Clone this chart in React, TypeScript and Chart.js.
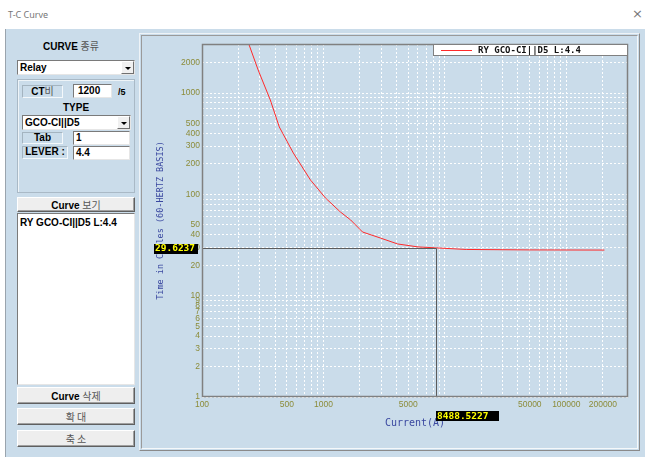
import React, { useEffect, useRef } from "react";
import { Chart, registerables } from "chart.js";

Chart.register(...registerables);

// ---- data ----
const currents = [235, 290, 365, 433, 565, 781, 1040, 1380, 1672, 2100, 2960, 4080, 6000, 8488.5227, 15000, 50000, 206000];
const cycles = [3400, 1690, 855, 463, 256, 139, 92, 67, 56, 42.5, 37, 32.4, 30.3, 29.6237, 28.6, 28.3, 28.2];
const seriesLabel = "RY GCO-CI||D5 L:4.4";

const xTickValues = [100, 200, 300, 400, 500, 600, 700, 800, 900, 1000, 2000, 3000, 4000, 5000, 6000, 7000, 8000, 9000,
  10000, 20000, 30000, 40000, 50000, 60000, 70000, 80000, 90000, 100000, 200000];
const xTickLabels = [100, 500, 1000, 5000, 50000, 100000, 200000];
const yTickValues = [1, 2, 3, 4, 5, 6, 7, 8, 9, 10, 20, 30, 40, 50, 60, 70, 80, 90, 100, 200, 300, 400, 500, 600, 700, 800, 900, 1000, 2000, 3000];
const yTickLabels = [1, 2, 3, 4, 5, 6, 7, 8, 9, 10, 20, 30, 40, 50, 100, 200, 300, 400, 500, 1000, 2000];

const crossCurrent = 8488.5227;
const crossTime = 29.6237;

const BLUE_BG = "#cadcea";
const UI_FONT = '"Liberation Sans", Arial, "Noto Sans CJK KR", sans-serif';
const MONO = '"DejaVu Sans Mono", "Liberation Mono", monospace';

const overlayPlugin = {
  id: "overlay",
  afterDatasetsDraw(chart: any) {
    const { ctx, chartArea: a, scales } = chart;
    const px = Math.round(scales.x.getPixelForValue(crossCurrent)) + 0.5;
    const py = Math.round(scales.y.getPixelForValue(crossTime)) + 0.5;
    ctx.save();
    ctx.strokeStyle = "#5c5c5c";
    ctx.lineWidth = 1;
    ctx.beginPath();
    ctx.moveTo(a.left, py);
    ctx.lineTo(px, py);
    ctx.moveTo(px, py);
    ctx.lineTo(px, a.bottom);
    ctx.stroke();
    // plot border
    ctx.strokeStyle = "#808080";
    ctx.lineWidth = 1.5;
    ctx.strokeRect(a.left + 0.5, a.top + 0.5, a.right - a.left - 1, a.bottom - a.top - 1);
    ctx.restore();
  },
  afterDraw(chart: any) {
    const { ctx, chartArea: a, scales } = chart;
    const px = Math.round(scales.x.getPixelForValue(crossCurrent));
    const py = Math.round(scales.y.getPixelForValue(crossTime));
    ctx.save();
    // legend box
    const lw = 195;
    const lx = a.right - lw;
    const ly = a.top;
    ctx.fillStyle = "#ffffff";
    ctx.fillRect(lx, ly, lw, 11);
    ctx.strokeStyle = "#808080";
    ctx.lineWidth = 1;
    ctx.strokeRect(lx + 0.5, ly + 0.5, lw - 1, 11);
    const ds = chart.data.datasets[0];
    ctx.strokeStyle = ds.borderColor;
    ctx.beginPath();
    ctx.moveTo(lx + 8, ly + 6.5);
    ctx.lineTo(lx + 39, ly + 6.5);
    ctx.stroke();
    ctx.fillStyle = "#111111";
    ctx.font = "bold 9px " + MONO;
    ctx.textBaseline = "middle";
    ctx.textAlign = "left";
    ctx.fillText(ds.label, lx + 45, ly + 6.5);

    // value boxes
    ctx.font = "bold 9.5px " + MONO;
    const yTxt = crossTime.toFixed(4);
    const yBoxW = 44;
    const yBoxX = a.left - 4 - yBoxW;
    ctx.fillStyle = "#000000";
    ctx.fillRect(yBoxX, py - 4, yBoxW, 10);
    ctx.fillStyle = "#ffff00";
    ctx.fillText(yTxt, yBoxX + 1, py + 1);

    const xTxt = crossCurrent.toFixed(4);
    ctx.fillStyle = "#000000";
    ctx.fillRect(px, a.bottom + 14, 63, 10);
    ctx.fillStyle = "#ffff00";
    ctx.fillText(xTxt, px + 1, a.bottom + 19.5);
    ctx.restore();
  },
};

function ChartPanel() {
  const ref = useRef<HTMLCanvasElement | null>(null);
  useEffect(() => {
    if (!ref.current) return;
    const tickFont = { family: '"Liberation Sans", Arial, sans-serif', size: 8.5 };
    const chart = new Chart(ref.current, {
      type: "line",
      data: {
        datasets: [
          {
            label: seriesLabel,
            data: currents.map((c, i) => ({ x: c, y: cycles[i] })),
            borderColor: "#ff2a2a",
            borderWidth: 1,
            pointRadius: 0,
            tension: 0,
            fill: false,
          },
        ],
      },
      options: {
        animation: false,
        responsive: false,
        devicePixelRatio: 1,
        layout: { padding: { top: 9, right: 10, left: 0, bottom: 0 } },
        plugins: { legend: { display: false }, tooltip: { enabled: false } },
        scales: {
          x: {
            type: "logarithmic",
            min: 100,
            max: 322000,
            afterBuildTicks: (s: any) => {
              s.ticks = xTickValues.map((v) => ({ value: v }));
            },
            afterFit: (s: any) => {
              s.height = 51;
            },
            ticks: {
              autoSkip: false,
              maxRotation: 0,
              minRotation: 0,
              padding: 3,
              color: "#8c8c3a",
              font: tickFont,
              callback: (v: any) => (xTickLabels.includes(Number(v)) ? String(v) : ""),
            },
            grid: { color: "rgba(255,255,255,0.95)", lineWidth: 1, drawTicks: false },
            border: { display: false, dash: [2, 2] },
            title: {
              display: true,
              text: "Current(A)",
              color: "#3a48a0",
              font: { family: MONO, size: 10 },
              padding: { top: 0, bottom: 19 },
            },
          },
          y: {
            type: "logarithmic",
            min: 1,
            max: 3050,
            afterBuildTicks: (s: any) => {
              s.ticks = yTickValues.map((v) => ({ value: v }));
            },
            afterFit: (s: any) => {
              s.width = 60;
            },
            ticks: {
              autoSkip: false,
              padding: 2,
              color: "#8c8c3a",
              font: tickFont,
              callback: (v: any) => (yTickLabels.includes(Number(v)) ? String(v) : ""),
            },
            grid: { color: "rgba(255,255,255,0.95)", lineWidth: 1, drawTicks: false },
            border: { display: false, dash: [2, 2] },
            title: {
              display: true,
              text: "Time in Cycles (60-HERTZ BASIS)",
              color: "#3a48a0",
              font: { family: MONO, size: 8.5 },
              padding: { top: 14, bottom: 0 },
            },
          },
        },
      },
      plugins: [overlayPlugin],
    } as any);
    return () => chart.destroy();
  }, []);
  return (
    <canvas
      ref={ref}
      width={496}
      height={413}
      style={{ position: "absolute", left: 142, top: 35, width: 496, height: 413 }}
    />
  );
}

const abs = (l: number, t: number, w: number, h: number, extra: any = {}) => ({
  position: "absolute" as const,
  left: l,
  top: t,
  width: w,
  height: h,
  boxSizing: "border-box" as const,
  ...extra,
});

const sunken = {
  borderStyle: "solid",
  borderWidth: 1,
  borderColor: "#7a7a7a #e6e6e6 #e6e6e6 #7a7a7a",
  background: "#ffffff",
};

const labelBox = {
  borderStyle: "solid",
  borderWidth: 1,
  borderColor: "#a4b4c0 #f4f8fb #f4f8fb #a4b4c0",
  textAlign: "center" as const,
  fontWeight: "bold" as const,
  fontSize: 10,
  lineHeight: "10px",
};

const button = {
  borderStyle: "solid",
  borderWidth: 1,
  borderColor: "#ffffff #5f5f5f #5f5f5f #ffffff",
  background: "#eeeeee",
  textAlign: "center" as const,
  fontSize: 10,
  fontWeight: "bold" as const,
  boxShadow: "inset -1px -1px 0 #a0a0a0",
};

function Combo({ l, t, w, h, text }: { l: number; t: number; w: number; h: number; text: string }) {
  return (
    <div style={abs(l, t, w, h, { ...sunken, fontSize: 10, fontWeight: "bold", lineHeight: h - 2 + "px", paddingLeft: 2 })}>
      {text}
      <div
        style={abs(w - 15, 0, 13, h - 2, {
          background: "#f0f0f0",
          borderStyle: "solid",
          borderWidth: 1,
          borderColor: "#ffffff #707070 #707070 #ffffff",
        })}
      >
        <div
          style={{
            position: "absolute",
            left: 3,
            top: (h - 4) / 2 - 1,
            width: 0,
            height: 0,
            borderLeft: "3px solid transparent",
            borderRight: "3px solid transparent",
            borderTop: "3px solid #000",
          }}
        />
      </div>
    </div>
  );
}

const KR = { fontWeight: "normal" as const, color: "#555", fontFamily: '"Noto Sans CJK KR", sans-serif' };

export default function App() {
  return (
    <div style={{ position: "fixed", left: 0, top: 0, width: 645, height: 457, background: "#ffffff", fontFamily: UI_FONT, color: "#000", overflow: "hidden" }}>
      {/* title bar */}
      <div style={abs(8, 9, 100, 12, { fontSize: 9, color: "#777", fontFamily: '"Noto Sans", sans-serif', lineHeight: "12px" })}>T-C Curve</div>
      <div style={abs(632, 7, 12, 14, { fontSize: 13, color: "#777", fontFamily: '"DejaVu Sans", sans-serif', lineHeight: "14px" })}>×</div>
      {/* body */}
      <div style={abs(5, 29, 640, 428, { background: BLUE_BG, borderLeft: "1px solid #9aa4ad" })} />

      {/* left panel */}
      <div style={abs(12, 39, 118, 13, { textAlign: "center", fontSize: 10, fontWeight: "bold", lineHeight: "13px" })}>
        CURVE <span style={KR}>종류</span>
      </div>
      <Combo l={17} t={60} w={118} h={15} text="Relay" />
      <div style={abs(17, 79, 118, 114, { border: "1px solid #a9b9c6", boxShadow: "1px 1px 0 #eef4f8 inset" })} />
      <div style={abs(22, 85, 41, 13, labelBox)}>
        CT<span style={KR}>비</span>
      </div>
      <div style={abs(73, 84, 39, 14, { ...sunken, fontSize: 10, fontWeight: "bold", lineHeight: "12px", paddingLeft: 4 })}>1200</div>
      <div style={abs(118, 86, 14, 12, { fontSize: 9, fontWeight: "bold", lineHeight: "12px" })}>/5</div>
      <div style={abs(17, 102, 118, 12, { textAlign: "center", fontSize: 10, fontWeight: "bold", lineHeight: "12px" })}>TYPE</div>
      <Combo l={22} t={115} w={109} h={15} text="GCO-CI||D5" />
      <div style={abs(22, 132, 41, 12, { ...labelBox, lineHeight: "10px" })}>Tab</div>
      <div style={abs(73, 131, 57, 14, { ...sunken, fontSize: 10, fontWeight: "bold", lineHeight: "12px", paddingLeft: 2 })}>1</div>
      <div style={abs(22, 146, 46, 13, labelBox)}>LEVER :</div>
      <div style={abs(73, 146, 57, 14, { ...sunken, fontSize: 10, fontWeight: "bold", lineHeight: "12px", paddingLeft: 2 })}>4.4</div>

      <div style={abs(17, 197, 118, 15, { ...button, lineHeight: "13px" })}>
        Curve <span style={KR}>보기</span>
      </div>
      <div style={abs(17, 213, 118, 172, { ...sunken, fontSize: 10, fontWeight: "bold", padding: "3px 0 0 2px", lineHeight: "12px", whiteSpace: "nowrap" })}>
        {seriesLabel}
      </div>
      <div style={abs(17, 387, 118, 17, { ...button, lineHeight: "15px" })}>
        Curve <span style={KR}>삭제</span>
      </div>
      <div style={abs(17, 408, 118, 17, { ...button, lineHeight: "15px" })}>
        <span style={KR}>확 대</span>
      </div>
      <div style={abs(17, 430, 118, 17, { ...button, lineHeight: "15px" })}>
        <span style={KR}>축 소</span>
      </div>

      {/* chart panel */}
      <div
        style={abs(139, 33, 501, 418, {
          borderStyle: "solid",
          borderWidth: 1,
          borderColor: "#eef3f7 #8a8a8a #8a8a8a #eef3f7",
        })}
      >
        <div
          style={abs(1, 1, 497, 414, {
            borderStyle: "solid",
            borderWidth: 1,
            borderColor: "#9a9a9a #f5f8fa #f5f8fa #9a9a9a",
          })}
        />
      </div>
      <ChartPanel />
    </div>
  );
}
